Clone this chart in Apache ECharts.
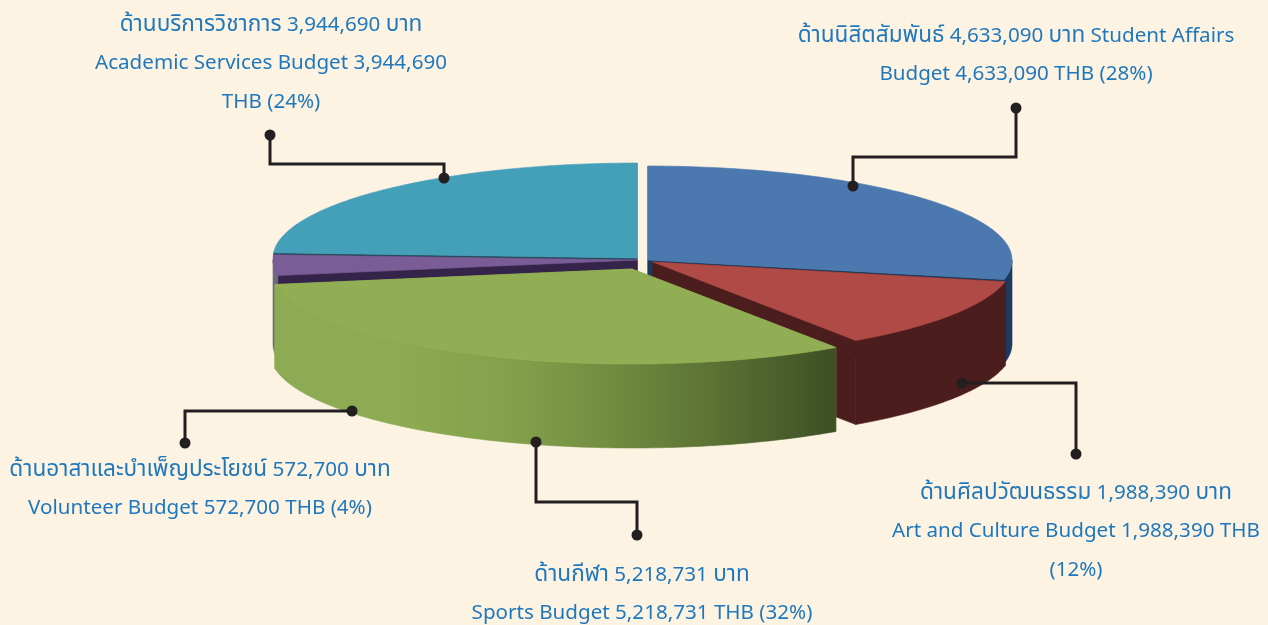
<!DOCTYPE html>
<html><head><meta charset="utf-8">
<style>html,body{margin:0;padding:0;background:#fdf3e3}#c{width:1268px;height:625px}</style>
<script src="https://cdn.jsdelivr.net/npm/echarts@6/dist/echarts.min.js"></script>
</head><body><div id="c"></div>
<script>
const categories = ['Student Affairs','Art and Culture','Sports','Volunteer','Academic Services'];
const budgetBaht = [4633090,1988390,5218731,572700,3944690];
const labelLines = [
  ['ด้านนิสิตสัมพันธ์ 4,633,090 บาท Student Affairs','Budget 4,633,090 THB (28%)'],
  ['ด้านศิลปวัฒนธรรม 1,988,390 บาท','Art and Culture Budget 1,988,390 THB','(12%)'],
  ['ด้านกีฬา 5,218,731 บาท','Sports Budget 5,218,731 THB (32%)'],
  ['ด้านอาสาและบำเพ็ญประโยชน์ 572,700 บาท','Volunteer Budget 572,700 THB (4%)'],
  ['ด้านบริการวิชาการ 3,944,690 บาท','Academic Services Budget 3,944,690','THB (24%)']
];

// Layout and style (separate from the data)
const sliceGeom = [
  {cx:648,cy:260,rx:364,ry:94,z:2},
  {cx:653,cy:262,rx:360,ry:95,z:3},
  {cx:632,cy:269,rx:362,ry:95,z:4},
  {cx:637,cy:260,rx:364,ry:95,z:1},
  {cx:637,cy:258,rx:364,ry:95,z:0}
];
const DEPTH = 84;
const topColors  = ['#4a78af','#b04a47','#91ae54','#7a5c96','#449fb9'];
const cutColors  = ['#1c3a5e','#4b1d1c','#8cab52','#35244a','#1d4f5e'];
const sideColors = ['#1c3a5e','#4b1d1c',null,'#6f6a80','#1d4f5e'];
const labelAnchors = [[1016,36],[1076,493],[642,575],[200,470],[271,25]];
const leaders = [
  [[1016,108],[1016,157],[853,157],[853,186]],
  [[1076,454],[1076,383],[962,383]],
  [[637,535],[637,502],[536,502],[536,442]],
  [[185,443],[185,411],[352,411]],
  [[270,135],[270,164],[444,164],[444,178]]
];
const LINE_H = 38.5, TEXT = '#1f78bd', INK = '#231f20';
const FONT = '"Noto Sans","Noto Sans Thai","Open Sans","DejaVu Sans",sans-serif';

const total = budgetBaht.reduce((a,b)=>a+b,0);
const starts = []; budgetBaht.reduce((acc,v,i)=>{starts[i]=acc;return acc+v;},0);

function pt(g,deg,dz){const t=deg*Math.PI/180;return [g.cx+g.rx*Math.sin(t),g.cy-g.ry*Math.cos(t)+(dz||0)];}
function arc(g,a,b,dz){const out=[];const n=Math.max(4,Math.ceil(b-a));for(let i=0;i<=n;i++)out.push(pt(g,a+(b-a)*i/n,dz));return out;}

const greenSide = new echarts.graphic.LinearGradient(0,0,1,0,[
  {offset:0,color:'#8dab53'},{offset:0.22,color:'#8cab52'},{offset:0.42,color:'#84a04b'},
  {offset:0.6,color:'#728c41'},{offset:0.78,color:'#5b7234'},{offset:1,color:'#3e4f24'}
]);

function renderItem(params,api){
  const i=params.dataIndex, v=api.value(0), g=sliceGeom[i];
  const a=starts[i]/total*360, b=(starts[i]+v)/total*360;
  const tip=[g.cx,g.cy], tipB=[g.cx,g.cy+DEPTH];
  const pa=pt(g,a), pb=pt(g,b), paB=pt(g,a,DEPTH), pbB=pt(g,b,DEPTH);
  const poly=(points,fill,z2)=>({type:'polygon',z2:z2,shape:{points:points},style:{fill:fill,stroke:fill,lineWidth:0.6}});
  const kids=[
    poly([tip,pa,paB,tipB],cutColors[i],g.z*10+1),
    poly([tip,pb,pbB,tipB],cutColors[i],g.z*10+1)
  ];
  // outer wall: only the front half of the ellipse is visible
  const fa=Math.max(a,90), fb=Math.min(b,270);
  if(fb>fa) kids.push(poly(arc(g,fa,fb,0).concat(arc(g,fa,fb,DEPTH).reverse()),sideColors[i]||greenSide,g.z*10+2));
  kids.push(poly([tip].concat(arc(g,a,b,0)),topColors[i],g.z*10+3));
  return {type:'group',children:kids};
}

// Thai runs are set larger than Latin runs to match the reference's typeface proportions
function richRuns(t){
  return t.split(/([\u0E00-\u0E7F]+)/).filter(s=>s).map(s=>/[\u0E00-\u0E7F]/.test(s)?'{th|'+s+'}':'{en|'+s+'}').join('');
}
const rich={th:{fontSize:22.6,fontFamily:FONT,fill:TEXT},en:{fontSize:20.6,fontFamily:FONT,fill:TEXT}};

const graphics=[];
leaders.forEach(path=>{
  graphics.push({type:'polyline',z:10,shape:{points:path},style:{stroke:INK,lineWidth:3,fill:null}});
  [path[0],path[path.length-1]].forEach(p=>graphics.push({type:'circle',z:11,shape:{cx:p[0],cy:p[1],r:5.5},style:{fill:INK}}));
});
labelLines.forEach((lines,i)=>lines.forEach((t,j)=>graphics.push({
  type:'text',z:12,x:labelAnchors[i][0],y:labelAnchors[i][1]+j*LINE_H,
  style:{text:richRuns(t),rich:rich,fill:TEXT,font:'20.6px '+FONT,textAlign:'center',textVerticalAlign:'middle'}
})));

const chart=echarts.init(document.getElementById('c'),null,{renderer:'canvas'});
chart.setOption({
  animation:false,
  backgroundColor:'#fdf3e3',
  graphic:graphics,
  series:[{type:'custom',coordinateSystem:'none',renderItem:renderItem,
    data:categories.map((n,i)=>({name:n,value:[budgetBaht[i]]})),silent:true}]
});
</script></body></html>
